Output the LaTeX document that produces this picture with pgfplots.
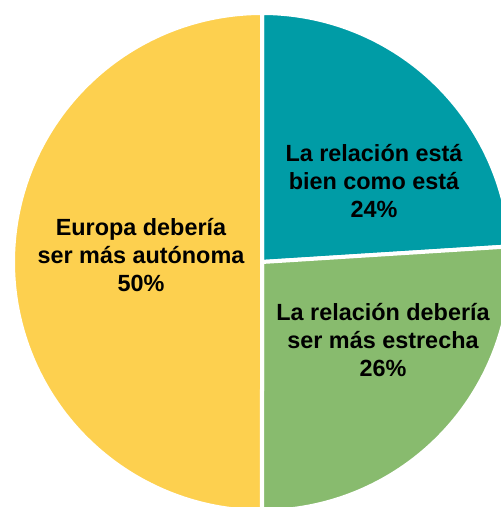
\documentclass[border=0pt]{standalone}
\usepackage{pgfplots}
\usepackage{pgfplotstable}
\pgfplotsset{compat=1.18}
\usepackage{fontspec}
\setmainfont{Liberation Sans}
\definecolor{cteal}{HTML}{009CA6}
\definecolor{cgreen}{HTML}{88BB6E}
\definecolor{cyellow}{HTML}{FDD04F}
\pgfplotstableread[col sep=comma]{
id,value
teal,24
green,26
yellow,50
}\piedata
\begin{document}
\begin{tikzpicture}
\pgfplotstablegetelem{0}{value}\of\piedata \let\va\pgfplotsretval
\pgfplotstablegetelem{1}{value}\of\piedata \let\vb\pgfplotsretval
\pgfplotstablegetelem{2}{value}\of\piedata \let\vc\pgfplotsretval
\pgfmathsetmacro\aA{90}
\pgfmathsetmacro\aB{90-3.6*\va}
\pgfmathsetmacro\aC{\aB-3.6*\vb}
\pgfmathsetmacro\aD{\aC-3.6*\vc}
\begin{axis}[scale only axis, width=250.5pt, height=253.5pt,
  xmin=0, xmax=501, ymin=0, ymax=507, hide axis, clip=true]
\addplot[fill=cteal, draw=white, line width=2pt, domain=\aB:\aA, samples=90, variable=\t]
  ({262+249*cos(\t)},{245+249*sin(\t)}) -- (axis cs:262,245) -- cycle;
\addplot[fill=cgreen, draw=white, line width=2pt, domain=\aC:\aB, samples=90, variable=\t]
  ({262+249*cos(\t)},{245+249*sin(\t)}) -- (axis cs:262,245) -- cycle;
\addplot[fill=cyellow, draw=white, line width=2pt, domain=\aD:\aC, samples=150, variable=\t]
  ({262+249*cos(\t)},{245+249*sin(\t)}) -- (axis cs:262,245) -- cycle;
\node[align=center, font=\bfseries\fontsize{11.7}{14.2}\selectfont] at (axis cs:374,326) {La relación está\\bien como está\\24\%};
\node[align=center, font=\bfseries\fontsize{11.7}{14.2}\selectfont] at (axis cs:383,167) {La relación debería\\ser más estrecha\\26\%};
\node[align=center, font=\bfseries\fontsize{11.7}{14.2}\selectfont] at (axis cs:141,252) {Europa debería\\ser más autónoma\\50\%};
\end{axis}
\pgfresetboundingbox
\path[use as bounding box] (current axis.south west) rectangle (current axis.north east);
\end{tikzpicture}
\end{document}
